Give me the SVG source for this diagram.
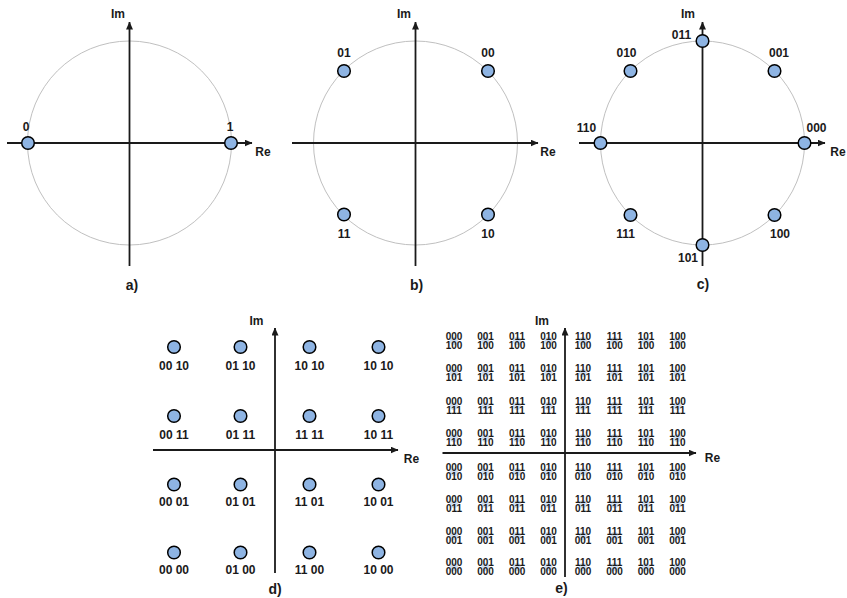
<svg xmlns="http://www.w3.org/2000/svg" width="847" height="598" viewBox="0 0 847 598">
<style>
.ax{stroke:#1a1a1a;stroke-width:1.8;fill:none;marker-end:url(#arr)}
.ring{fill:none;stroke:#c0c0c0;stroke-width:1}
.pt{fill:#8eb4e3;stroke:#000;stroke-width:1.5}
.lb{font-family:"Liberation Sans",Arial,sans-serif;font-weight:bold;font-size:12px;fill:#1a1a1a;text-anchor:middle}
.cap{font-size:14px}
.sm{font-size:10px}
.dot{fill:#cfdef2}
</style>
<defs>
<marker id="arr" viewBox="0 0 8 7" refX="7.5" refY="3.5" markerWidth="8" markerHeight="7" markerUnits="userSpaceOnUse" orient="auto"><path d="M0,0 L8,3.5 L0,7 z" fill="#1a1a1a"/></marker>
</defs>
<rect width="847" height="598" fill="#fff"/>
<circle class="ring" cx="129.5" cy="143" r="102"/>
<circle class="ring" cx="415.5" cy="143" r="102"/>
<circle class="ring" cx="702.5" cy="143" r="102"/>
<g id="connectors">
<path class="ax" d="M129.5,266 V22"/><path class="ax" d="M7,143 H252"/>
<path class="ax" d="M415.5,266 V22"/><path class="ax" d="M292,143 H538"/>
<path class="ax" d="M702.5,266 V22"/><path class="ax" d="M579,143 H825"/>
<path class="ax" d="M275,573 V328"/><path class="ax" d="M153,450 H398"/>
<path class="ax" d="M565,577 V328"/><path class="ax" d="M442.5,453 H696"/>
</g>
<g id="a-labels"><text class="lb" x="118" y="17.5">Im</text><text class="lb" x="263" y="156">Re</text><text class="lb cap" x="132" y="290">a)</text></g>
<g id="a-0"><circle class="pt" cx="28" cy="143" r="6.3"/><text class="lb" x="26" y="131">0</text></g>
<g id="a-1"><circle class="pt" cx="231" cy="143" r="6.3"/><text class="lb" x="230" y="131">1</text></g>
<g id="b-labels"><text class="lb" x="404" y="17.5">Im</text><text class="lb" x="548" y="156">Re</text><text class="lb cap" x="416.5" y="290">b)</text></g>
<g id="b-01"><circle class="pt" cx="344" cy="71" r="6.3"/><text class="lb" x="344" y="56.5">01</text></g>
<g id="b-00"><circle class="pt" cx="488" cy="71" r="6.3"/><text class="lb" x="488" y="56.5">00</text></g>
<g id="b-11"><circle class="pt" cx="344" cy="214.5" r="6.3"/><text class="lb" x="344" y="237.5">11</text></g>
<g id="b-10"><circle class="pt" cx="488" cy="214.5" r="6.3"/><text class="lb" x="488" y="237.5">10</text></g>
<g id="c-labels"><text class="lb" x="688" y="17.5">Im</text><text class="lb" x="838" y="156">Re</text><text class="lb cap" x="703" y="289">c)</text></g>
<g id="c-011"><circle class="pt" cx="702.5" cy="41" r="6.3"/><text class="lb" x="681.5" y="38.5">011</text></g>
<g id="c-001"><circle class="pt" cx="774.5" cy="71" r="6.3"/><text class="lb" x="779" y="56.5">001</text></g>
<g id="c-010"><circle class="pt" cx="630.5" cy="71" r="6.3"/><text class="lb" x="626.5" y="56.5">010</text></g>
<g id="c-000"><circle class="pt" cx="804.5" cy="143" r="6.3"/><text class="lb" x="816.5" y="132">000</text></g>
<g id="c-110"><circle class="pt" cx="600.5" cy="143" r="6.3"/><text class="lb" x="586.5" y="132">110</text></g>
<g id="c-111"><circle class="pt" cx="630.5" cy="215" r="6.3"/><text class="lb" x="625.5" y="237.5">111</text></g>
<g id="c-100"><circle class="pt" cx="774.5" cy="215" r="6.3"/><text class="lb" x="780" y="237.5">100</text></g>
<g id="c-101"><circle class="pt" cx="702.5" cy="245" r="6.3"/><text class="lb" x="688" y="262">101</text></g>
<g id="d-labels"><text class="lb" x="256.5" y="325">Im</text><text class="lb" x="411.5" y="462.5">Re</text><text class="lb cap" x="275" y="594">d)</text></g>
<g id="d-r1c1"><circle class="pt" cx="174" cy="347" r="6.3"/><text class="lb" x="174" y="369.5">00 10</text></g>
<g id="d-r1c2"><circle class="pt" cx="240.5" cy="347" r="6.3"/><text class="lb" x="240.5" y="369.5">01 10</text></g>
<g id="d-r1c3"><circle class="pt" cx="309.5" cy="347" r="6.3"/><text class="lb" x="309.5" y="369.5">10 10</text></g>
<g id="d-r1c4"><circle class="pt" cx="378.5" cy="347" r="6.3"/><text class="lb" x="378.5" y="369.5">10 10</text></g>
<g id="d-r2c1"><circle class="pt" cx="174" cy="416" r="6.3"/><text class="lb" x="174" y="438.5">00 11</text></g>
<g id="d-r2c2"><circle class="pt" cx="240.5" cy="416" r="6.3"/><text class="lb" x="240.5" y="438.5">01 11</text></g>
<g id="d-r2c3"><circle class="pt" cx="309.5" cy="416" r="6.3"/><text class="lb" x="309.5" y="438.5">11 11</text></g>
<g id="d-r2c4"><circle class="pt" cx="378.5" cy="416" r="6.3"/><text class="lb" x="378.5" y="438.5">10 11</text></g>
<g id="d-r3c1"><circle class="pt" cx="174" cy="484.5" r="6.3"/><text class="lb" x="174" y="505.5">00 01</text></g>
<g id="d-r3c2"><circle class="pt" cx="240.5" cy="484.5" r="6.3"/><text class="lb" x="240.5" y="505.5">01 01</text></g>
<g id="d-r3c3"><circle class="pt" cx="309.5" cy="484.5" r="6.3"/><text class="lb" x="309.5" y="505.5">11 01</text></g>
<g id="d-r3c4"><circle class="pt" cx="378.5" cy="484.5" r="6.3"/><text class="lb" x="378.5" y="505.5">10 01</text></g>
<g id="d-r4c1"><circle class="pt" cx="174" cy="552.5" r="6.3"/><text class="lb" x="174" y="573.5">00 00</text></g>
<g id="d-r4c2"><circle class="pt" cx="240.5" cy="552.5" r="6.3"/><text class="lb" x="240.5" y="573.5">01 00</text></g>
<g id="d-r4c3"><circle class="pt" cx="309.5" cy="552.5" r="6.3"/><text class="lb" x="309.5" y="573.5">11 00</text></g>
<g id="d-r4c4"><circle class="pt" cx="378.5" cy="552.5" r="6.3"/><text class="lb" x="378.5" y="573.5">10 00</text></g>
<g id="e-labels"><text class="lb" x="542" y="324.5">Im</text><text class="lb" x="712.5" y="462">Re</text><text class="lb cap" x="561.5" y="593">e)</text></g>
<g class="lb sm">
<g id="e-r1"><circle class="dot" cx="454" cy="341" r="4"/><circle class="dot" cx="485.5" cy="341" r="4"/><circle class="dot" cx="517" cy="341" r="4"/><circle class="dot" cx="548.5" cy="341" r="4"/><circle class="dot" cx="583" cy="341" r="4"/><circle class="dot" cx="614.5" cy="341" r="4"/><circle class="dot" cx="646" cy="341" r="4"/><circle class="dot" cx="677.5" cy="341" r="4"/>
<text x="454" y="339.5">000</text><text x="454" y="349">100</text><text x="485.5" y="339.5">001</text><text x="485.5" y="349">100</text><text x="517" y="339.5">011</text><text x="517" y="349">100</text><text x="548.5" y="339.5">010</text><text x="548.5" y="349">100</text><text x="583" y="339.5">110</text><text x="583" y="349">100</text><text x="614.5" y="339.5">111</text><text x="614.5" y="349">100</text><text x="646" y="339.5">101</text><text x="646" y="349">100</text><text x="677.5" y="339.5">100</text><text x="677.5" y="349">100</text></g>
<g id="e-r2"><circle class="dot" cx="454" cy="373" r="4"/><circle class="dot" cx="485.5" cy="373" r="4"/><circle class="dot" cx="517" cy="373" r="4"/><circle class="dot" cx="548.5" cy="373" r="4"/><circle class="dot" cx="583" cy="373" r="4"/><circle class="dot" cx="614.5" cy="373" r="4"/><circle class="dot" cx="646" cy="373" r="4"/><circle class="dot" cx="677.5" cy="373" r="4"/>
<text x="454" y="371.5">000</text><text x="454" y="381">101</text><text x="485.5" y="371.5">001</text><text x="485.5" y="381">101</text><text x="517" y="371.5">011</text><text x="517" y="381">101</text><text x="548.5" y="371.5">010</text><text x="548.5" y="381">101</text><text x="583" y="371.5">110</text><text x="583" y="381">101</text><text x="614.5" y="371.5">111</text><text x="614.5" y="381">101</text><text x="646" y="371.5">101</text><text x="646" y="381">101</text><text x="677.5" y="371.5">100</text><text x="677.5" y="381">101</text></g>
<g id="e-r3"><circle class="dot" cx="454" cy="406" r="4"/><circle class="dot" cx="485.5" cy="406" r="4"/><circle class="dot" cx="517" cy="406" r="4"/><circle class="dot" cx="548.5" cy="406" r="4"/><circle class="dot" cx="583" cy="406" r="4"/><circle class="dot" cx="614.5" cy="406" r="4"/><circle class="dot" cx="646" cy="406" r="4"/><circle class="dot" cx="677.5" cy="406" r="4"/>
<text x="454" y="404.5">000</text><text x="454" y="414">111</text><text x="485.5" y="404.5">001</text><text x="485.5" y="414">111</text><text x="517" y="404.5">011</text><text x="517" y="414">111</text><text x="548.5" y="404.5">010</text><text x="548.5" y="414">111</text><text x="583" y="404.5">110</text><text x="583" y="414">111</text><text x="614.5" y="404.5">111</text><text x="614.5" y="414">111</text><text x="646" y="404.5">101</text><text x="646" y="414">111</text><text x="677.5" y="404.5">100</text><text x="677.5" y="414">111</text></g>
<g id="e-r4"><circle class="dot" cx="454" cy="438" r="4"/><circle class="dot" cx="485.5" cy="438" r="4"/><circle class="dot" cx="517" cy="438" r="4"/><circle class="dot" cx="548.5" cy="438" r="4"/><circle class="dot" cx="583" cy="438" r="4"/><circle class="dot" cx="614.5" cy="438" r="4"/><circle class="dot" cx="646" cy="438" r="4"/><circle class="dot" cx="677.5" cy="438" r="4"/>
<text x="454" y="436.5">000</text><text x="454" y="446">110</text><text x="485.5" y="436.5">001</text><text x="485.5" y="446">110</text><text x="517" y="436.5">011</text><text x="517" y="446">110</text><text x="548.5" y="436.5">010</text><text x="548.5" y="446">110</text><text x="583" y="436.5">110</text><text x="583" y="446">110</text><text x="614.5" y="436.5">111</text><text x="614.5" y="446">110</text><text x="646" y="436.5">101</text><text x="646" y="446">110</text><text x="677.5" y="436.5">100</text><text x="677.5" y="446">110</text></g>
<g id="e-r5"><circle class="dot" cx="454" cy="472" r="4"/><circle class="dot" cx="485.5" cy="472" r="4"/><circle class="dot" cx="517" cy="472" r="4"/><circle class="dot" cx="548.5" cy="472" r="4"/><circle class="dot" cx="583" cy="472" r="4"/><circle class="dot" cx="614.5" cy="472" r="4"/><circle class="dot" cx="646" cy="472" r="4"/><circle class="dot" cx="677.5" cy="472" r="4"/>
<text x="454" y="470.5">000</text><text x="454" y="480">010</text><text x="485.5" y="470.5">001</text><text x="485.5" y="480">010</text><text x="517" y="470.5">011</text><text x="517" y="480">010</text><text x="548.5" y="470.5">010</text><text x="548.5" y="480">010</text><text x="583" y="470.5">110</text><text x="583" y="480">010</text><text x="614.5" y="470.5">111</text><text x="614.5" y="480">010</text><text x="646" y="470.5">101</text><text x="646" y="480">010</text><text x="677.5" y="470.5">100</text><text x="677.5" y="480">010</text></g>
<g id="e-r6"><circle class="dot" cx="454" cy="504" r="4"/><circle class="dot" cx="485.5" cy="504" r="4"/><circle class="dot" cx="517" cy="504" r="4"/><circle class="dot" cx="548.5" cy="504" r="4"/><circle class="dot" cx="583" cy="504" r="4"/><circle class="dot" cx="614.5" cy="504" r="4"/><circle class="dot" cx="646" cy="504" r="4"/><circle class="dot" cx="677.5" cy="504" r="4"/>
<text x="454" y="502.5">000</text><text x="454" y="512">011</text><text x="485.5" y="502.5">001</text><text x="485.5" y="512">011</text><text x="517" y="502.5">011</text><text x="517" y="512">011</text><text x="548.5" y="502.5">010</text><text x="548.5" y="512">011</text><text x="583" y="502.5">110</text><text x="583" y="512">011</text><text x="614.5" y="502.5">111</text><text x="614.5" y="512">011</text><text x="646" y="502.5">101</text><text x="646" y="512">011</text><text x="677.5" y="502.5">100</text><text x="677.5" y="512">011</text></g>
<g id="e-r7"><circle class="dot" cx="454" cy="536" r="4"/><circle class="dot" cx="485.5" cy="536" r="4"/><circle class="dot" cx="517" cy="536" r="4"/><circle class="dot" cx="548.5" cy="536" r="4"/><circle class="dot" cx="583" cy="536" r="4"/><circle class="dot" cx="614.5" cy="536" r="4"/><circle class="dot" cx="646" cy="536" r="4"/><circle class="dot" cx="677.5" cy="536" r="4"/>
<text x="454" y="534.5">000</text><text x="454" y="544">001</text><text x="485.5" y="534.5">001</text><text x="485.5" y="544">001</text><text x="517" y="534.5">011</text><text x="517" y="544">001</text><text x="548.5" y="534.5">010</text><text x="548.5" y="544">001</text><text x="583" y="534.5">110</text><text x="583" y="544">001</text><text x="614.5" y="534.5">111</text><text x="614.5" y="544">001</text><text x="646" y="534.5">101</text><text x="646" y="544">001</text><text x="677.5" y="534.5">100</text><text x="677.5" y="544">001</text></g>
<g id="e-r8"><circle class="dot" cx="454" cy="567" r="4"/><circle class="dot" cx="485.5" cy="567" r="4"/><circle class="dot" cx="517" cy="567" r="4"/><circle class="dot" cx="548.5" cy="567" r="4"/><circle class="dot" cx="583" cy="567" r="4"/><circle class="dot" cx="614.5" cy="567" r="4"/><circle class="dot" cx="646" cy="567" r="4"/><circle class="dot" cx="677.5" cy="567" r="4"/>
<text x="454" y="565.5">000</text><text x="454" y="575">000</text><text x="485.5" y="565.5">001</text><text x="485.5" y="575">000</text><text x="517" y="565.5">011</text><text x="517" y="575">000</text><text x="548.5" y="565.5">010</text><text x="548.5" y="575">000</text><text x="583" y="565.5">110</text><text x="583" y="575">000</text><text x="614.5" y="565.5">111</text><text x="614.5" y="575">000</text><text x="646" y="565.5">101</text><text x="646" y="575">000</text><text x="677.5" y="565.5">100</text><text x="677.5" y="575">000</text></g>
</g>
</svg>
